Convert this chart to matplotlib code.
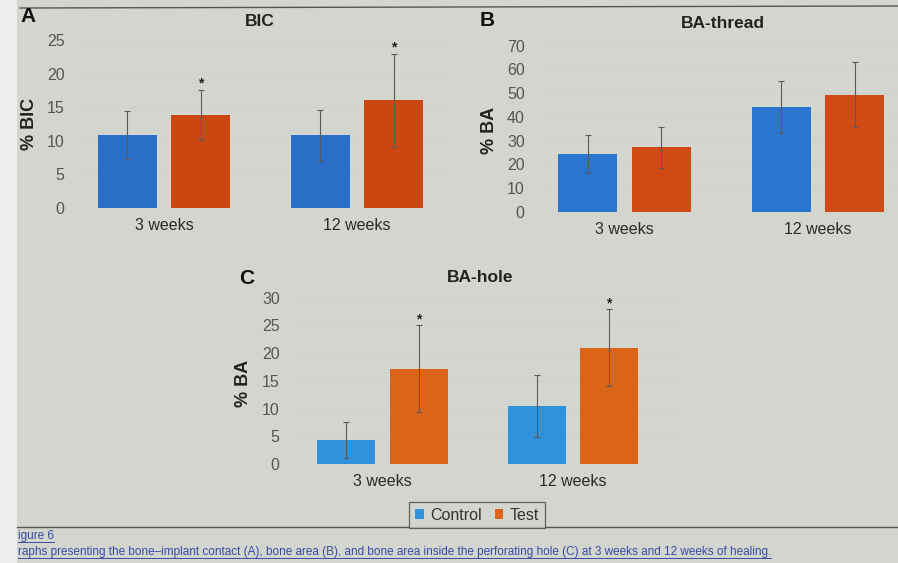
import matplotlib
matplotlib.use("Agg")
import matplotlib.pyplot as plt
from matplotlib.patches import Patch, Rectangle
from matplotlib.lines import Line2D
import numpy as np

# ---------------- data ----------------
categories = ["3 weeks", "12 weeks"]
series_names = ["Control", "Test"]

bic_control = [10.9, 10.8]
bic_control_err = [3.6, 3.8]
bic_test = [13.8, 16.0]
bic_test_err = [3.7, 6.9]

bat_control = [24.5, 44.2]
bat_control_err = [8.0, 11.1]
bat_test = [27.2, 49.4]
bat_test_err = [8.6, 13.8]

bah_control = [4.3, 10.5]
bah_control_err = [3.2, 5.6]
bah_test = [17.2, 21.0]
bah_test_err = [7.8, 7.0]

bic_ticks = [0, 5, 10, 15, 20, 25]
bat_ticks = [0, 10, 20, 30, 40, 50, 60, 70]
bah_ticks = [0, 5, 10, 15, 20, 25, 30]

# ---------------- styling ----------------
W, H = 898, 563
BG = "#d2d6ce"
FONT = ["Liberation Sans", "DejaVu Sans"]
plt.rcParams["font.family"] = FONT

fig = plt.figure(figsize=(W / 100, H / 100), dpi=100, facecolor=BG)

def ax_px(x0, x1, ytop, ybot):
    return fig.add_axes([x0 / W, 1 - ybot / H, (x1 - x0) / W, (ybot - ytop) / H])

def panel(ax, ctrl, ctrl_e, test, test_e, ticks, xlim, colors, stars, star_gap):
    x = np.arange(len(categories))
    off = 0.19
    w = 0.305
    ax.set_facecolor(BG)
    for t in ticks:
        ax.axhline(t, color="#cbcfc7", lw=0.5, zorder=0)
    ax.bar(x - off, ctrl, w, color=colors[0], zorder=2)
    ax.bar(x + off, test, w, color=colors[1], zorder=2)
    ax.errorbar(x - off, ctrl, yerr=ctrl_e, fmt="none", ecolor="#5a5a5a",
                elinewidth=0.8, capsize=2.0, capthick=0.8, zorder=3, clip_on=False)
    ax.errorbar(x + off, test, yerr=test_e, fmt="none", ecolor="#5a5a5a",
                elinewidth=0.8, capsize=2.0, capthick=0.8, zorder=3, clip_on=False)
    for i, s in enumerate(stars):
        if s:
            ax.text(x[i] + off, test[i] + test_e[i] + star_gap, "*", ha="center",
                    va="center", fontsize=10, fontweight="bold", color="#222222",
                    clip_on=False)
    ax.set_xlim(*xlim)
    ax.set_ylim(ticks[0], ticks[-1])
    ax.set_yticks(ticks)
    ax.set_xticks(x)
    ax.set_xticklabels(categories, fontsize=11.5, color="#2a2a2a")
    ax.tick_params(axis="y", labelsize=11.5, colors="#555555", length=0, pad=11)
    ax.tick_params(axis="x", length=0, pad=7)
    for sp in ax.spines.values():
        sp.set_visible(False)

# Panel A
axA = ax_px(80, 450, 40, 208)
panel(axA, bic_control, bic_control_err, bic_test, bic_test_err, bic_ticks,
      (-0.435, 1.482), ("#2a6ec8", "#cb4610"), [True, True], 1.0)
# Panel B
axB = ax_px(540, 898, 45.7, 212)
panel(axB, bat_control, bat_control_err, bat_test, bat_test_err, bat_ticks,
      (-0.437, 1.413), ("#2b74cf", "#cf4a14"), [False, False], 0)
# Panel C
axC = ax_px(295, 680, 297.7, 464)
panel(axC, bah_control, bah_control_err, bah_test, bah_test_err, bah_ticks,
      (-0.459, 1.562), ("#2f92da", "#dc6418"), [True, True], 1.0)

# titles, letters, y labels
def ftxt(xp, yp, s, **kw):
    return fig.text(xp / W, 1 - yp / H, s, **kw)

ftxt(28, 16, "A", fontsize=15, fontweight="bold", ha="center", va="center", color="#111111")
ftxt(260, 22, "BIC", fontsize=12.5, fontweight="bold", ha="center", va="center", color="#222222")
ftxt(30, 124, "% BIC", fontsize=13, fontweight="bold", rotation=90, ha="center", va="center", color="#222222")

ftxt(487, 20, "B", fontsize=15, fontweight="bold", ha="center", va="center", color="#111111")
ftxt(723, 24, "BA-thread", fontsize=12.5, fontweight="bold", ha="center", va="center", color="#222222")
ftxt(489, 130, "% BA", fontsize=13, fontweight="bold", rotation=90, ha="center", va="center", color="#222222")

ftxt(247, 278, "C", fontsize=15, fontweight="bold", ha="center", va="center", color="#111111")
ftxt(480, 278, "BA-hole", fontsize=12.5, fontweight="bold", ha="center", va="center", color="#222222")
ftxt(244, 383, "% BA", fontsize=13, fontweight="bold", rotation=90, ha="center", va="center", color="#222222")

# legend
handles = [Patch(facecolor="#2f92da", edgecolor="none"),
           Patch(facecolor="#dc6418", edgecolor="none")]
leg = fig.legend(handles, series_names, loc="center", bbox_to_anchor=(477 / W, 1 - 515 / H),
                 ncol=2, fontsize=11.5, frameon=True, fancybox=False, handlelength=0.55,
                 handleheight=0.55, handletextpad=0.4, columnspacing=0.8, borderpad=0.35)
leg.get_frame().set_edgecolor("#444444")
leg.get_frame().set_facecolor(BG)
leg.get_frame().set_linewidth(0.9)
for t in leg.get_texts():
    t.set_color("#333333")

# page decorations (screen photo)
fig.add_artist(Line2D([20 / W, 1], [1 - 8 / H, 1 - 6 / H], color="#555555", lw=1.0))
fig.add_artist(Line2D([17 / W, 1], [1 - 527 / H, 1 - 527 / H], color="#555555", lw=1.0))
fig.add_artist(Rectangle((0, 0), 17 / W, 1, transform=fig.transFigure, facecolor="#eceeee",
                         edgecolor="none"))

cap_font = ["Liberation Sans Narrow", "Liberation Sans", "DejaVu Sans"]
cap_color = "#3a4aa5"
t1 = ftxt(18, 536, "igure 6", fontsize=8.5, color=cap_color, ha="left", va="center", family=cap_font)
t2 = ftxt(18, 552, "raphs presenting the bone\u2013implant contact (A), bone area (B), and bone area inside the "
          "perforating hole (C) at 3 weeks and 12 weeks of healing.", fontsize=8.5, color=cap_color,
          ha="left", va="center", family=cap_font)

# underline caption links
fig.canvas.draw()
r = fig.canvas.get_renderer()
for t, yp in ((t1, 542), (t2, 558)):
    bb = t.get_window_extent(r)
    fig.add_artist(Line2D([bb.x0 / W, bb.x1 / W], [1 - yp / H, 1 - yp / H], color=cap_color, lw=0.7))

fig.savefig("out.png", dpi=100, facecolor=BG)
